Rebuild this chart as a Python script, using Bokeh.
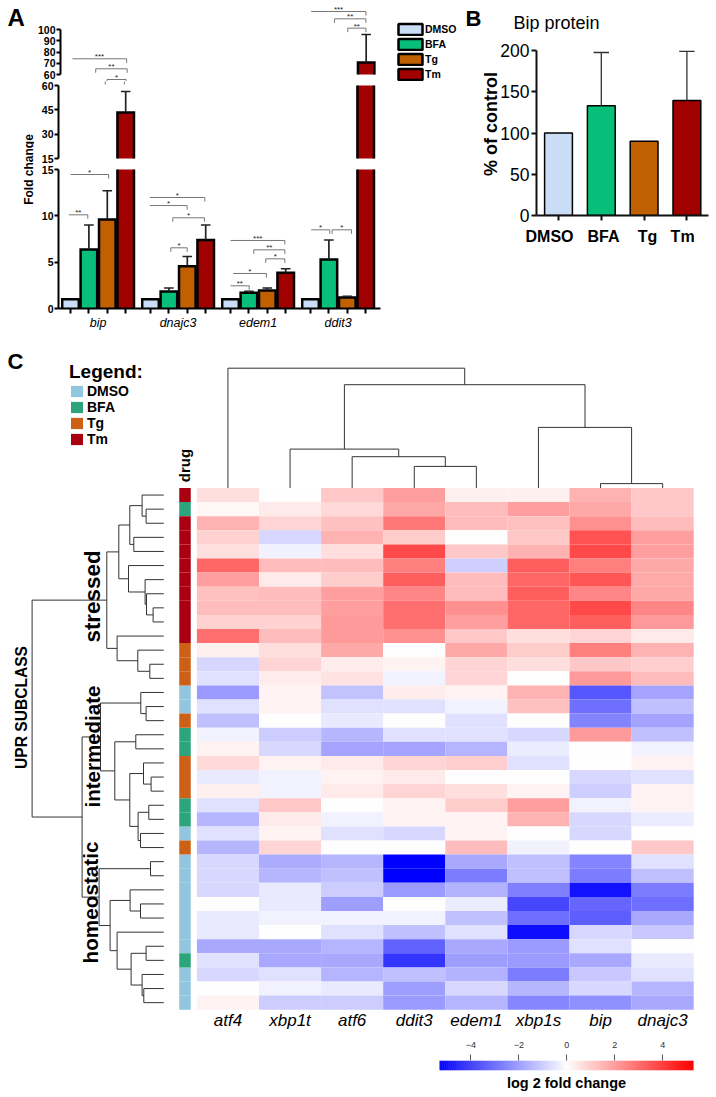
import math
import numpy as np
from bokeh.plotting import figure
from bokeh.layouts import row, column
from bokeh.embed import file_html
from bokeh.resources import INLINE
from bokeh.models import (ColumnDataSource, Range1d, LinearAxis, FixedTicker, Label, Legend, LegendItem,
                          LinearColorMapper)
from bokeh.core.properties import value as fv

FONT = "Liberation Sans"
# ---------- panel A data
genes = ["bip", "dnajc3", "edem1", "ddit3"]
drugs = ["DMSO", "BFA", "Tg", "Tm"]
fold_bip = [1.0, 6.37, 9.6, 43.35]
fold_dnajc3 = [1.0, 1.83, 4.56, 7.4]
fold_edem1 = [1.0, 1.7, 1.95, 3.85]
fold_ddit3 = [1.0, 5.3, 1.2, 70.7]
tip_bip = [None, 9.0, 12.7, 56.3]
tip_dnajc3 = [None, 2.2, 5.6, 9.0]
tip_edem1 = [None, 1.85, 2.2, 4.3]
tip_ddit3 = [None, 7.4, 1.33, 95.6]
drug_colors = ["#C9DDF7", "#07BF78", "#C06000", "#A00000"]
axis_breaks = [(60, 100, [60, 70, 80, 90, 100]), (15, 60, [15, 30, 45, 60]), (0, 15, [0, 5, 10, 15])]
# brackets: axis segment, from bar, to bar, height in fold change, left drop?, stars
brackets = [
    (0, 0.00, 2.96, 73.96, False, "***"), (0, 1.27, 2.99, 65.07, True, "**"), (0, 1.89, 2.93, 55.56, True, "*"),
    (1, 1.89, 2.93, 63.08, True, ""),
    (2, 0.00, 2.07, 14.46, False, "*"), (2, -0.09, 0.94, 10.11, False, "**"),
    (2, 4.31, 7.30, 11.98, False, "*"), (2, 4.31, 6.34, 11.11, False, "*"),
    (2, 5.56, 7.28, 9.79, True, "*"), (2, 5.45, 6.34, 6.55, True, "*"),
    (2, 8.70, 11.65, 7.34, False, "***"), (2, 9.96, 11.65, 6.33, True, "**"),
    (2, 10.61, 11.65, 5.36, True, "*"), (2, 8.84, 10.65, 3.78, False, "*"), (2, 8.70, 9.71, 2.45, False, "**"),
    (0, 13.04, 16.03, 116.0, False, "***"), (0, 14.31, 16.03, 109.5, True, "**"), (0, 15.04, 16.03, 101.2, True, "**"),
    (2, 13.08, 14.09, 8.49, False, "*"), (2, 14.22, 15.27, 8.49, True, "*"),
]
# ---------- panel B data
protein_pct = [100, 133, 90, 139.4]
protein_tip = [None, 197.6, None, 199]
# ---------- panel C data
heat_genes = ["atf4", "xbp1t", "atf6", "ddit3", "edem1", "xbp1s", "bip", "dnajc3"]
heat_rows = [
 [.7,0,1.15,2,.3,.3,1.6,1.15],[.2,.45,.8,1.8,1.4,2,1.8,1.15],[1.6,.9,1.3,2.8,1.4,1.3,2.3,1.4],
 [.95,-.85,1.6,1.05,0,1.15,3.6,2],[.7,-.25,.7,3.8,1.15,1.6,3.8,2],[3.15,1.4,1.4,2.65,-1,3.35,2.65,1.8],
 [2,.45,1.05,3.35,1.4,3.15,3.5,1.75],[1.3,1.4,2,2.5,1.4,3.35,2.5,1.8],[1.4,1.4,2,3,2.3,3.15,3.8,2.5],
 [.95,.95,2.1,3,2,3.15,3.35,2.1],[3,1.4,2.1,2.3,1.15,.7,.9,.45],[.3,.7,1.8,0,1.8,1.05,2.65,1.6],
 [-.85,.9,.4,.25,.9,.7,1.15,1],[-.65,.4,.6,-.25,.9,0,2.1,1.4],[-2.1,.25,-1.25,.4,.25,1.6,-3.5,-1.9],
 [-.65,.25,-.65,-.65,-.25,1.3,-3,-1.3],[-1.3,0,-.45,0,-.65,0,-2.55,-1.9],[-.25,-1.05,-1.5,-.65,-.65,-.8,2.1,-1.3],
 [.25,-.8,-1.9,-1.9,-1.55,-.4,0,-.25],[.8,.25,.45,.9,1,-.65,0,.25],[-.45,-.25,.25,.45,0,0,-.8,-.65],
 [.3,-.25,.45,.9,.7,.25,-1,.25],[-.65,1.15,0,.25,1.05,2,-.25,.25],[-1.5,.45,-.25,.25,.25,1.6,-.8,-.4],
 [-.65,.25,-.65,-.8,.25,0,-.8,0],[-1.5,.9,0,0,1.4,-.25,0,1.15],[-.8,-1.7,-1.5,-5.3,-1.8,-1.3,-2.55,-.65],
 [-.8,-1.5,-1.3,-5.3,-2.7,-1.3,-2.7,-1.3],[-.8,-.45,-1.05,-2.1,-1.6,-2.65,-4.9,-2.7],[0,-.45,-2,0,-.4,-3.85,-3.15,-3],
 [-.45,-.25,-.25,-.25,-1.3,-3,-3.35,-1.8],[-.45,0,-.65,-1.3,-.65,-5,-.8,-1.15],[-1.8,-1.8,-1.55,-3.25,-1.8,-2.1,-.65,0],
 [-.65,-1.8,-1.8,-4.2,-2,-2.1,-1.8,-.45],[-.8,-.65,-1.55,-1.3,-1.6,-2.7,-1.15,-.65],[0,-.25,-.45,-2,-.8,-1.5,-.8,-1.55],
 [.25,-1.05,-1.05,-2.1,-1.55,-2.5,-2.3,-1.8],
]
row_drug = ["Tm","BFA"]+["Tm"]*9+["Tg"]*3+["DMSO"]*2+["Tg"]+["BFA"]*2+["Tg"]*3+["BFA"]*2+["DMSO"]+["Tg"]+["DMSO"]*7+["BFA"]+["DMSO"]*3
strip_colors = {"DMSO": "#92C5DE", "BFA": "#2CA57A", "Tg": "#CC6016", "Tm": "#A90012"}
# clustering trees: (merge height, left, right); leaves are row / column numbers
row_tree = (131.7,
  (57, (45, (34, (21.7, 0, (17.7, 1, 2)), (30, 3, 4)), (35.3, 5, (18.7, 6, (17.3, 7, (10.7, 8, 9))))),
       (46.7, 10, (26, 11, (14, 12, 13)))),
  (81.7,
   (63.3, (23, 14, (17.7, 15, 16)),
          (49, (28, 17, 18), (34, (20.3, 19, (12.7, 20, 21)), (25.7, (15, 22, 23), (23.3, 24, 25))))),
   (64.7, (13.3, 26, 27),
          (53.7, (33.7, 28, (23.3, 29, 30)),
                 (46.7, 31, (32.7, (17.7, 32, 33), (21.7, 34, (20, 35, 36))))))))
col_tree = (119.8, 0,
  (103.3, (38.9, 1, (31.3, 2, (21.6, 3, 4))), (60.6, 5, (4.4, 6, 7))))
cbar_ticks = [-4, -2, 0, 2, 4]

# ---------- page geometry (px on the page)
W = 716
AX_L, AX_R, STRIP_R, A_R = 58, 380, 34, 460
BAR0, BAR_STEP, GROUP_STEP = 70, 18.4, 80
TOP_H = 340
SEG_BOX = [(0, 81), (81, 164), (164, 308)]
SEG_PX = [(74, 29), (158, 85), (308, 169)]

def bar_x(px):
    return (px - BAR0) / BAR_STEP

def page_label(p, box, px, py, text, size, style="normal", align="left", angle=0, color="#000000"):
    # box: frame (left, bottom) on the page
    p.add_layout(Label(x=px - box[0], y=box[1] - py, x_units="screen", y_units="screen", text=text, level="overlay",
                       text_font=FONT, text_font_size=f"{size}px", text_font_style=style, text_color=color,
                       text_align=align, text_baseline="middle", angle=angle))

folds = [fold_bip, fold_dnajc3, fold_edem1, fold_ddit3]
tips = [tip_bip, tip_dnajc3, tip_edem1, tip_ddit3]
group_u = GROUP_STEP / BAR_STEP
HW = 0.45

seg_figs = []
for s, (lo, hi, ticks) in enumerate(axis_breaks):
    top, bot = SEG_BOX[s]
    plo, phi = SEG_PX[s]
    pp = (plo - phi) / (hi - lo)
    y0 = lo - (bot - plo) / pp
    y1 = hi + (phi - top) / pp
    extra = TOP_H - 308 if s == 2 else 0
    p = figure(width=A_R - STRIP_R, height=bot - top + extra, output_backend="svg", toolbar_location=None,
               x_range=Range1d(bar_x(AX_L), bar_x(A_R)), y_range=Range1d(y0, y1), frame_align=False,
               min_border_left=AX_L - STRIP_R, min_border_right=0, min_border_top=0, min_border_bottom=extra,
               x_axis_type=None, y_axis_type=None, outline_line_color=None)
    p.xgrid.visible = False
    p.ygrid.visible = False
    ya = LinearAxis(ticker=FixedTicker(ticks=ticks), bounds=(lo, hi), axis_line_width=2, axis_line_color="#000000",
                    major_tick_line_width=2, major_tick_line_color="#000000", major_tick_in=0, major_tick_out=4,
                    minor_tick_line_color=None, minor_tick_out=0, major_label_standoff=1,
                    major_label_text_font=FONT, major_label_text_font_size="10.5px",
                    major_label_text_font_style="bold", major_label_text_color="#000000")
    p.add_layout(ya, "left")
    if s == 2:
        bar_pos = [g * group_u + b for g in range(4) for b in range(4)]
        xa = LinearAxis(ticker=FixedTicker(ticks=bar_pos), bounds=(bar_x(AX_L), bar_x(AX_R)), axis_line_width=2,
                        axis_line_color="#000000", major_tick_line_width=2, major_tick_line_color="#000000",
                        major_tick_in=0, major_tick_out=5, minor_tick_line_color=None, minor_tick_out=0,
                        major_label_text_font_size="0px", major_label_standoff=0,
                        major_label_overrides={x: "" for x in bar_pos})
        p.add_layout(xa, "below")
        centres = [(g * group_u + 1.5) for g in range(4)]
        xb = LinearAxis(ticker=FixedTicker(ticks=centres), axis_line_color=None, major_tick_line_color=None,
                        major_tick_out=0, major_tick_in=0, minor_tick_out=0, minor_tick_line_color=None,
                        major_label_standoff=2,
                        major_label_overrides=dict(zip(centres, genes)), major_label_text_font=FONT,
                        major_label_text_font_size="12.5px", major_label_text_font_style="italic",
                        major_label_text_color="#000000")
        p.add_layout(xb, "below")
    # bars, open where the axis is broken
    for d, col in enumerate(drug_colors):
        L, R, B, T = [], [], [], []
        xs, ys = [], []
        for g, f in enumerate(folds):
            v = f[d]
            if v <= lo:
                continue
            c = g * group_u + d
            t = min(v, hi)
            L.append(c - HW); R.append(c + HW); B.append(lo); T.append(t)
            if v <= hi:
                xs.append([c - HW, c - HW, c + HW, c + HW]); ys.append([lo, t, t, lo])
            else:
                xs += [[c - HW, c - HW], [c + HW, c + HW]]; ys += [[lo, t], [lo, t]]
        if L:
            p.quad(left=L, right=R, bottom=B, top=T, fill_color=col, line_color=None)
            p.multi_line(xs, ys, line_color="#000000", line_width=2.5, line_join="miter")
    # error bars
    for g, (f, tp) in enumerate(zip(folds, tips)):
        for d in range(4):
            if tp[d] is None or tp[d] <= lo or f[d] >= hi:
                continue
            c = g * group_u + d
            p.segment([c], [max(f[d], lo)], [c], [min(tp[d], hi)], line_color="#222222", line_width=1.7)
            if tp[d] <= hi:
                p.segment([c - .26], [tp[d]], [c + .26], [tp[d]], line_color="#222222", line_width=1.5)
    # significance brackets
    for seg, a, b, y, both, stars in brackets:
        if seg != s:
            continue
        drop = 4 / pp
        p.multi_line([[a, b, b]], [[y, y, y - drop]], line_color="#777777", line_width=1)
        if both:
            p.segment([a], [y], [a], [y - drop], line_color="#777777", line_width=1)
        if stars:
            p.text([(a + b) / 2], [y], text=[stars], text_font=fv(FONT), text_font_size="8px", text_color="#222222",
                   text_align="center", text_baseline="middle", y_offset=-2)
    if s == 0:
        items = []
        for d, col in enumerate(drug_colors):
            r = p.quad(left=[float("nan")], right=[float("nan")], bottom=[float("nan")], top=[float("nan")],
                       fill_color=col, line_color="#000000", line_width=2.5)
            items.append(LegendItem(label=drugs[d], renderers=[r]))
        leg = Legend(items=items, location=(335, 0), border_line_color=None, background_fill_color=None,
                     glyph_width=30, glyph_height=14, spacing=1, padding=0, margin=0, label_standoff=0,
                     label_text_font=FONT, label_text_font_size="10.5px", label_text_font_style="bold",
                     label_height=14, label_text_color="#000000")
        p.add_layout(leg, "center")
    seg_figs.append(p)

# left strip of panel A
strip = figure(width=STRIP_R, height=TOP_H, output_backend="svg", toolbar_location=None, frame_align=False,
               x_range=Range1d(0, 1), y_range=Range1d(0, 1), min_border=0, x_axis_type=None, y_axis_type=None,
               outline_line_color=None)
strip.xgrid.visible = False
strip.ygrid.visible = False
sb = (0, TOP_H)
page_label(strip, sb, 7, 17, "A", 24, "bold")
page_label(strip, sb, 28, 169, "Fold change", 12, "bold", "center", math.pi / 2)

# ---------- panel B
HEAD_H = 32
head = figure(width=W - A_R, height=HEAD_H, output_backend="svg", toolbar_location=None, frame_align=False,
              x_range=Range1d(0, 1), y_range=Range1d(0, 1), min_border=0, x_axis_type=None, y_axis_type=None,
              outline_line_color=None)
head.xgrid.visible = False
head.ygrid.visible = False
hb = (A_R, HEAD_H)
page_label(head, hb, 465, 18, "B", 22, "bold")
page_label(head, hb, 513, 22, "Bip protein", 18)

B_L, B_R, B_T, B_B = 536, 708, HEAD_H, 215
b_step = 42.8
b0 = 558
b_pp = (215 - 50) / 200
pb = figure(width=W - A_R, height=TOP_H - HEAD_H, output_backend="svg", toolbar_location=None, frame_align=False,
            x_range=Range1d((B_L - b0) / b_step, (B_R - b0) / b_step), y_range=Range1d(0, (B_B - B_T) / b_pp),
            min_border_left=B_L - A_R, min_border_right=W - B_R, min_border_top=0, min_border_bottom=TOP_H - B_B,
            x_axis_type=None, y_axis_type=None, outline_line_color=None)
pb.xgrid.visible = False
pb.ygrid.visible = False
pos = list(range(4))
pb.quad(left=[x - .325 for x in pos], right=[x + .325 for x in pos], bottom=0, top=protein_pct,
        fill_color=drug_colors, line_color="#000000", line_width=1.5)
for x, v, t in zip(pos, protein_pct, protein_tip):
    if t is not None:
        pb.segment([x], [v], [x], [t], line_color="#333333", line_width=1.3)
        pb.segment([x - .18], [t], [x + .18], [t], line_color="#333333", line_width=1.3)
ya = LinearAxis(ticker=FixedTicker(ticks=[0, 50, 100, 150, 200]), bounds=(0, 200), axis_line_width=2,
                axis_line_color="#111111", major_tick_line_width=2, major_tick_line_color="#111111", major_tick_in=0,
                major_tick_out=5, minor_tick_line_color=None, minor_tick_out=0, major_label_standoff=2,
                major_label_text_font=FONT,
                major_label_text_font_size="17.5px", major_label_text_color="#000000",
                axis_label="% of control", axis_label_text_font=FONT, axis_label_text_font_size="18px",
                axis_label_text_font_style="bold", axis_label_standoff=-4, axis_label_text_color="#000000")
pb.add_layout(ya, "left")
xa = LinearAxis(ticker=FixedTicker(ticks=pos), axis_line_width=2, axis_line_color="#111111", major_tick_line_width=2,
                major_tick_line_color="#111111", major_tick_in=0, major_tick_out=5, minor_tick_line_color=None,
                minor_tick_out=0, major_label_text_font_size="0px", major_label_standoff=0,
                major_label_overrides={x: "" for x in pos})
pb.add_layout(xa, "below")
name_pos = [-.21, 1.05, 2.08, 2.9]
xn = LinearAxis(ticker=FixedTicker(ticks=name_pos), axis_line_color=None, major_tick_line_color=None,
                major_tick_out=0, major_tick_in=0, minor_tick_out=0,
                minor_tick_line_color=None, major_label_standoff=7, major_label_overrides=dict(zip(name_pos, drugs)),
                major_label_text_font=FONT, major_label_text_font_size="16px", major_label_text_font_style="bold",
                major_label_text_color="#000000")
pb.add_layout(xn, "below")

# ---------- panel C
C_T, C_B, C_BOTTOM = 340, 1010, 1034
H_L, COL_W, H_T, ROW_H = 196.4, 62.1, 487.5, 14.1
pc = figure(width=W, height=C_BOTTOM - C_T, output_backend="svg", toolbar_location=None, frame_align=False,
            x_range=Range1d((0 - H_L) / COL_W, (W - H_L) / COL_W),
            y_range=Range1d((C_B - H_T) / ROW_H, (C_T - H_T) / ROW_H),
            min_border_left=0, min_border_right=0, min_border_top=0, min_border_bottom=C_BOTTOM - C_B,
            x_axis_type=None, y_axis_type=None, outline_line_color=None)
pc.xgrid.visible = False
pc.ygrid.visible = False
LEAF_X = 163.3
pc.extra_x_ranges["tree"] = Range1d(LEAF_X - 0, LEAF_X - W)
pc.extra_y_ranges["tree"] = Range1d(H_T - C_B, H_T - C_T)
cmap = LinearColorMapper(palette=[
    "#%02x%02x%02x" % ((int(i * 2), int(i * 2), 255) if i < 128 else (255, int((255 - i) * 2), int((255 - i) * 2)))
    for i in range(256)], low=-5.3, high=5.3)
xs, ys, vs = [], [], []
for r, rw in enumerate(heat_rows):
    for c, v in enumerate(rw):
        xs.append(c + .5); ys.append(r + .5); vs.append(v)
pc.rect(x="x", y="y", width=1, height=1, source=ColumnDataSource(dict(x=xs, y=ys, v=vs)),
        fill_color={"field": "v", "transform": cmap}, line_color=None)
# drug strip
strip_x = (184.5 - H_L) / COL_W
items = []
for d in drugs:
    rows_d = [i + .5 for i, n in enumerate(row_drug) if n == d]
    r = pc.rect(x=strip_x, y=rows_d, width=11.5 / COL_W, height=1, fill_color=strip_colors[d], line_color=None)
    items.append(LegendItem(label=d, renderers=[r]))
leg = Legend(items=items, location=(69, 563), border_line_color=None, background_fill_color=None, glyph_width=15,
             glyph_height=14, spacing=0, padding=0, margin=0, label_standoff=3, label_text_font=FONT,
             label_text_font_size="14px", label_text_font_style="bold", label_height=14, label_text_color="#000000",
             title="Legend:", title_text_font=FONT, title_text_font_size="19px", title_text_font_style="bold",
             title_text_color="#000000", title_standoff=0)
pc.add_layout(leg, "center")

def walk(node, out):
    if isinstance(node, int):
        return node + .5, 0
    h, a, b = node
    pa, ha = walk(a, out)
    pb_, hb_ = walk(b, out)
    out.append(([pa, pa, pb_, pb_], [ha, h, h, hb_]))
    return (pa + pb_) / 2, h

segs = []
walk(row_tree, segs)
pc.multi_line([s[1] for s in segs], [s[0] for s in segs], x_range_name="tree", line_color="#333333", line_width=1)
segs = []
walk(col_tree, segs)
pc.multi_line([s[0] for s in segs], [s[1] for s in segs], y_range_name="tree", line_color="#333333", line_width=1)
gx = [i + .5 for i in range(8)]
ga = LinearAxis(ticker=FixedTicker(ticks=gx), axis_line_color=None, major_tick_line_color=None,
                major_tick_out=0, major_tick_in=0, minor_tick_out=0,
                minor_tick_line_color=None, major_label_standoff=0, major_label_overrides=dict(zip(gx, heat_genes)),
                major_label_text_font=FONT, major_label_text_font_size="17px", major_label_text_font_style="italic",
                major_label_text_color="#000000")
pc.add_layout(ga, "below")
cb = (0, C_B)
page_label(pc, cb, 7, 361, "C", 22, "bold")
page_label(pc, cb, 184, 465, "drug", 15, "bold", "center", math.pi / 2)
page_label(pc, cb, 92, 596, "stressed", 22.4, "bold", "center", math.pi / 2)
page_label(pc, cb, 92, 746, "intermediate", 20.5, "bold", "center", math.pi / 2)
page_label(pc, cb, 90, 902, "homeostatic", 20.7, "bold", "center", math.pi / 2)
page_label(pc, cb, 21, 707, "UPR SUBCLASS", 15.6, "bold", "center", math.pi / 2)

# ---------- colour scale
CB_L, CB_R, CB_T, CB_B, ZERO, PX_UNIT, PAGE_B = 439, 693, 1060, 1070, 566.3, 24, 1095
pk = figure(width=W, height=PAGE_B - C_BOTTOM, output_backend="svg", toolbar_location=None, frame_align=False,
            x_range=Range1d((CB_L - ZERO) / PX_UNIT, (CB_R - ZERO) / PX_UNIT), y_range=Range1d(0, 1),
            min_border_left=CB_L, min_border_right=W - CB_R, min_border_top=CB_T - C_BOTTOM,
            min_border_bottom=PAGE_B - CB_B, x_axis_type=None, y_axis_type=None, outline_line_color=None)
pk.xgrid.visible = False
pk.ygrid.visible = False
cx = np.linspace(-5.3, 5.3, 128)
pk.rect(x="x", y=.5, width=cx[1] - cx[0] + .02, height=1, source=ColumnDataSource(dict(x=cx)),
        fill_color={"field": "x", "transform": cmap}, line_color=None)
ca = LinearAxis(ticker=FixedTicker(ticks=cbar_ticks), axis_line_color=None, major_tick_line_color="#555555",
                major_tick_line_width=1, major_tick_in=0, major_tick_out=6, minor_tick_line_color=None,
                minor_tick_out=0,
                major_label_standoff=7, major_label_overrides={t: str(t).replace("-", "\u2212") for t in cbar_ticks},
                major_label_text_font=FONT, major_label_text_font_size="9px", major_label_text_color="#333333")
pk.add_layout(ca, "above")
cl = LinearAxis(ticker=FixedTicker(ticks=[]), bounds=(-5.0, 5.3), axis_line_color=None, major_tick_line_color=None,
                major_tick_out=0, major_tick_in=0, minor_tick_out=0, minor_tick_line_color=None,
                major_label_text_font_size="0px", major_label_standoff=0,
                axis_label="log 2 fold change", axis_label_standoff=4, axis_label_text_font=FONT,
                axis_label_text_font_size="14.5px", axis_label_text_font_style="bold", axis_label_text_color="#000000")
pk.add_layout(cl, "below")

layout = column(row(strip, column(*seg_figs), column(head, pb)), pc, pk)
open("out.html", "w").write(file_html(layout, INLINE))
